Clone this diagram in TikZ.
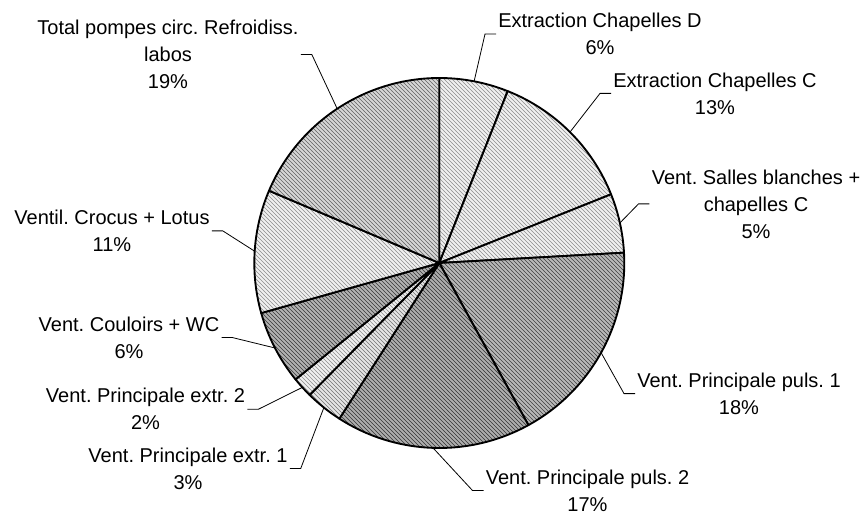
\documentclass[tikz,border=0pt]{standalone}
\usepackage{fontspec}
\setmainfont{Liberation Sans}
\usepackage{tikz}
\usetikzlibrary{patterns}
\frenchspacing

\begin{document}
\begin{tikzpicture}[x=0.75pt, y=0.75pt,
    slice/.style={draw=black, line width=1.4pt, line join=round},
    lbl/.style={align=center, inner sep=1.5pt, font=\fontsize{15}{20.25}\selectfont},
    leader/.style={draw=black, line width=0.6pt}]
    \useasboundingbox (0,0) rectangle (865,515);
    \coordinate (c) at (439.3,252);
    % slices, clockwise from the top: start/end/fill/hatch colour
    \foreach \a/\b/\f/\p in {90/68.3/black!6/black!45, 68.3/21.8/black!6/black!45,
        21.8/3.2/black!6/black!45, 3.2/-61.2/black!28/black!75,
        -61.2/-122.7/black!32/black!80, -122.7/-134.5/black!10/black!55,
        -134.5/-141/black!6/black!45, -141/-164.3/black!30/black!78,
        -164.3/-203/black!6/black!45, -203/-270/black!16/black!62}
      \draw[slice, preaction={fill=\f}, pattern=north west lines, pattern color=\p]
        (c) -- ++(\a:185) arc[start angle=\a, end angle=\b, radius=185] -- cycle;

    % points on the rim
    \foreach \n/\m in {D/79.15, C/45.05, S/12.5, P/-29, Q/-91.95,
        E/-128.6, F/-137.75, W/-152.65, L/-183.65, T/-236.5}
      \path (c) ++(\m:185) coordinate (e\n);

    % labels
    \node[lbl] (lD) at (600,481) {Extraction Chapelles D\\6\%};
    \node[lbl] (lC) at (715,421.6) {Extraction Chapelles C\\13\%};
    \node[lbl] (lS) at (756,311.1) {Vent. Salles blanches +\\chapelles C\\5\%};
    \node[lbl] (lP) at (739,121.4) {Vent. Principale puls. 1\\18\%};
    \node[lbl] (lQ) at (587.5,24.5) {Vent. Principale puls. 2\\17\%};
    \node[lbl] (lE) at (188,46.6) {Vent. Principale extr. 1\\3\%};
    \node[lbl] (lF) at (145.5,105.7) {Vent. Principale extr. 2\\2\%};
    \node[lbl] (lW) at (129,177.4) {Vent. Couloirs + WC\\6\%};
    \node[lbl] (lL) at (112,284.1) {Ventil. Crocus + Lotus\\11\%};
    \node[lbl] (lT) at (168,460.4) {Total pompes circ. Refroidiss.\\labos\\19\%};

    % leader lines
    \foreach \n in {D,C,S,P,Q}
      \draw[leader] (e\n) -- ([xshift=-8.25pt]l\n.west) -- (l\n.west);
    \foreach \n in {E,F,W,L,T}
      \draw[leader] (e\n) -- ([xshift=8.25pt]l\n.east) -- (l\n.east);
\end{tikzpicture}
\end{document}
